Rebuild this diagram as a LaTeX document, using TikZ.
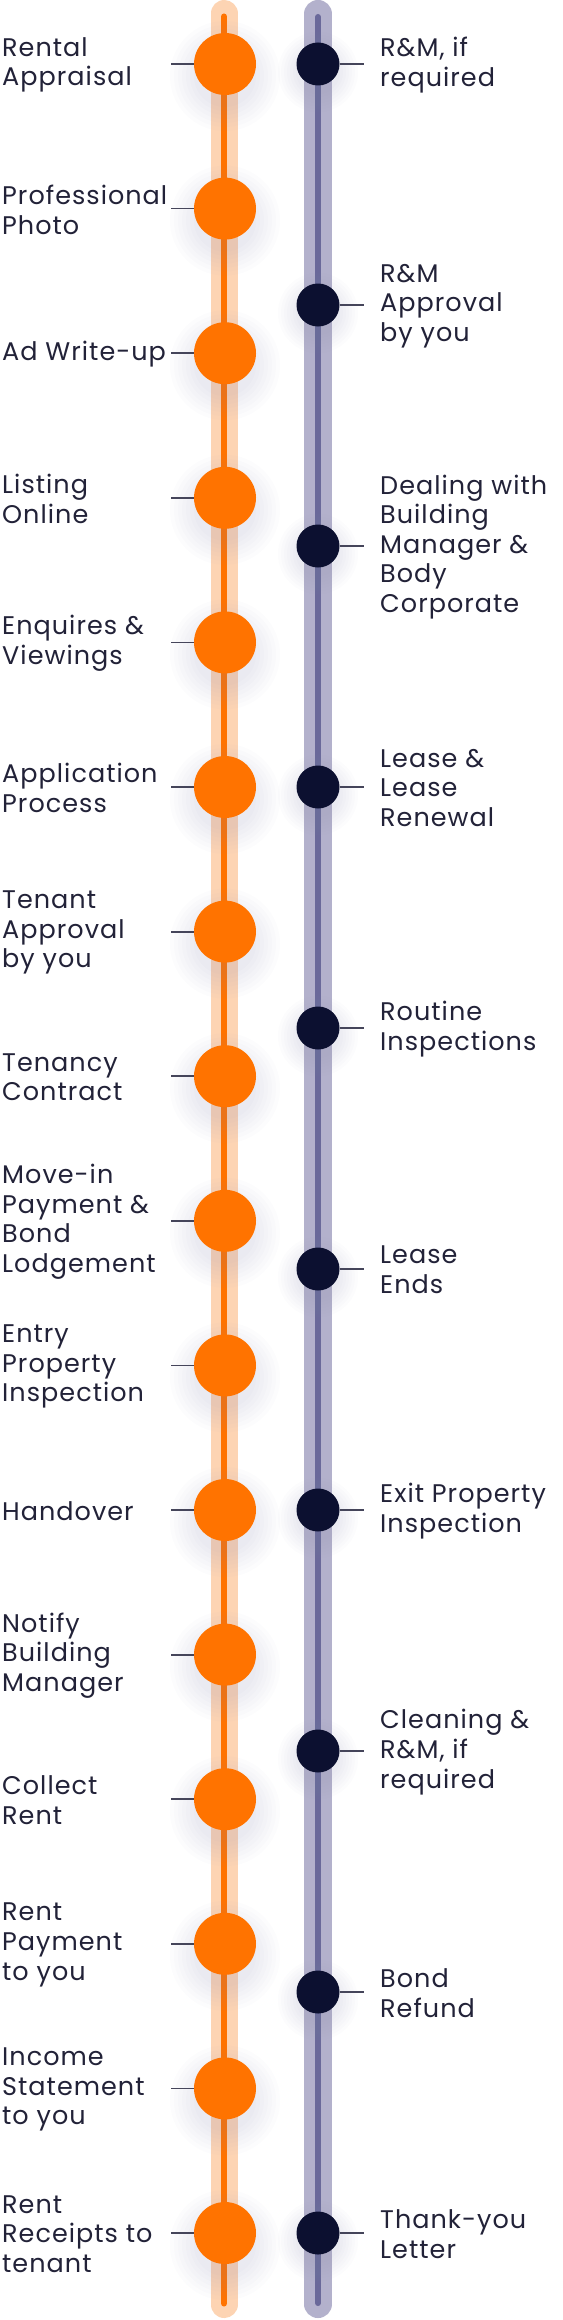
\documentclass[tikz,border=0pt]{standalone}
\usepackage{fontspec}
\setmainfont[LetterSpace=4]{Poppins}
\definecolor{peach}{HTML}{FDD4B3}
\definecolor{orng}{HTML}{FF7300}
\definecolor{lilac}{HTML}{B3B1CC}
\definecolor{violet}{HTML}{6A699A}
\definecolor{navy}{HTML}{0C1030}
\definecolor{ink}{HTML}{222238}
\definecolor{tickc}{HTML}{45455A}
\definecolor{shadowc}{HTML}{8A96B8}
\begin{document}
\begin{tikzpicture}[x=1pt,y=-1pt,
  ocirc/.style={circle,fill=orng,minimum size=62pt,inner sep=0pt},
  dcirc/.style={circle,fill=navy,minimum size=43pt,inner sep=0pt},
  lab/.style={anchor=west,align=left,inner sep=0pt,text=ink,font=\fontsize{25.5}{29.6}\selectfont},
  tick/.style={draw=tickc,line width=1.8pt},
  shade/.style={fill=shadowc,fill opacity=0.022}]
\useasboundingbox[fill=white] (0,0) rectangle (562,2320);
% bars
\coordinate (otop) at (224,13.5);
\coordinate (obot) at (224,2304.5);
\coordinate (ptop) at (318,14);
\coordinate (pbot) at (318,2304);
\draw[peach,line width=27pt,line cap=round] (otop) -- (obot);
\draw[lilac,line width=28pt,line cap=round] (ptop) -- (pbot);
\draw[orng,line width=6pt,line cap=round] ([yshift=-3pt]otop) -- ([yshift=1pt]obot);
\draw[violet,line width=6pt,line cap=round] ([yshift=-3pt]ptop) -- ([yshift=1pt]pbot);
% shadows
\foreach \i in {1,...,16}{
  \pgfmathsetmacro\yy{64+144.6*(\i-1)}
  \foreach \r in {31,35,...,55}{\fill[shade] (225,\yy+12) circle (\r pt);}
}
\foreach \i in {1,...,10}{
  \pgfmathsetmacro\yy{64+241*(\i-1)}
  \foreach \r in {22,25,...,40}{\fill[shade] (318,\yy+8) circle (\r pt);}
}
% orange steps
\foreach \i/\t in {1/{Rental\\Appraisal},2/{Professional\\Photo},3/{Ad Write-up},4/{Listing\\Online},5/{Enquires \&\\Viewings},6/{Application\\Process},7/{Tenant\\Approval\\by you},8/{Tenancy\\Contract},9/{Move-in\\Payment \&\\Bond\\Lodgement},10/{Entry\\Property\\Inspection},11/{Handover},12/{Notify\\Building\\Manager},13/{Collect\\Rent},14/{Rent\\Payment\\to you},15/{Income\\Statement\\to you},16/{Rent\\Receipts to\\tenant}}{
  \pgfmathsetmacro\yy{64+144.6*(\i-1)}
  \node[ocirc] (o\i) at (225,\yy) {};
  \coordinate (lt\i) at (171,\yy);
  \draw[tick] (lt\i) -- (o\i.west);
  \node[lab] (lo\i) at (2,\yy+1) {\t};
}
% dark steps
\foreach \i/\t in {1/{R\&M, if\\required},2/{R\&M\\Approval\\by you},3/{Dealing with\\Building\\Manager \&\\Body\\Corporate},4/{Lease \&\\Lease\\Renewal},5/{Routine\\Inspections},6/{Lease\\Ends},7/{Exit Property\\Inspection},8/{Cleaning \&\\R\&M, if\\required},9/{Bond\\Refund},10/{Thank-you\\Letter}}{
  \pgfmathsetmacro\yy{64+241*(\i-1)}
  \node[dcirc] (d\i) at (318,\yy) {};
  \coordinate (rt\i) at (364,\yy);
  \draw[tick] (d\i.east) -- (rt\i);
  \node[lab] (ld\i) at (380,\yy+1) {\t};
}
\end{tikzpicture}
\end{document}
